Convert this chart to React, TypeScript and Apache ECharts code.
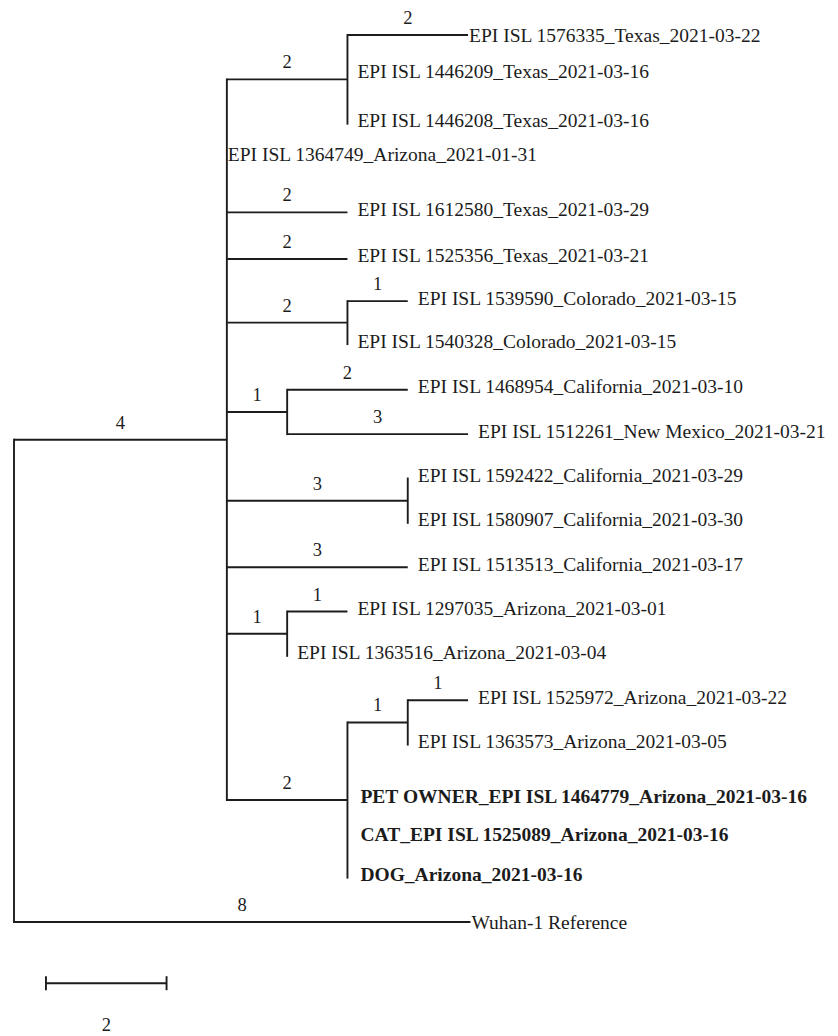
import React, { useEffect, useRef } from "react";
import * as echarts from "echarts";

// ---- Tree data (parents listed before children; child order = drawing order) ----
const nodeIds = [
  "root", "M", "T", "t1", "t2", "t3", "a0", "t4", "t5", "C", "c1", "c2",
  "N", "n1", "n2", "P", "p1", "p2", "s1", "A", "a1", "a2", "Q", "R", "r1", "r2",
  "q1", "q2", "q3", "W",
];
const nodeParents: (string | null)[] = [
  null, "root", "M", "T", "T", "T", "M", "M", "M", "M", "C", "C",
  "M", "N", "N", "M", "P", "P", "M", "M", "A", "A", "M", "Q", "R", "R",
  "Q", "Q", "Q", "root",
];
const branchLengths = [
  0, 3.53, 2, 2, 0, 0, 0, 2, 2, 2, 1, 0,
  1, 2, 3, 3, 0, 0, 3, 1, 1, 0, 2, 1, 1, 0,
  0, 0, 0, 7.57,
];
const branchLabels = [
  "", "4", "2", "2", "", "", "", "2", "2", "2", "1", "",
  "1", "2", "3", "3", "", "", "3", "1", "1", "", "2", "1", "1", "",
  "", "", "", "8",
];
const leafIds = [
  "t1", "t2", "t3", "a0", "t4", "t5", "c1", "c2", "n1", "n2", "p1", "p2",
  "s1", "a1", "a2", "r1", "r2", "q1", "q2", "q3", "W",
];
const leafNames = [
  "EPI ISL 1576335_Texas_2021-03-22",
  "EPI ISL 1446209_Texas_2021-03-16",
  "EPI ISL 1446208_Texas_2021-03-16",
  "EPI ISL 1364749_Arizona_2021-01-31",
  "EPI ISL 1612580_Texas_2021-03-29",
  "EPI ISL 1525356_Texas_2021-03-21",
  "EPI ISL 1539590_Colorado_2021-03-15",
  "EPI ISL 1540328_Colorado_2021-03-15",
  "EPI ISL 1468954_California_2021-03-10",
  "EPI ISL 1512261_New Mexico_2021-03-21",
  "EPI ISL 1592422_California_2021-03-29",
  "EPI ISL 1580907_California_2021-03-30",
  "EPI ISL 1513513_California_2021-03-17",
  "EPI ISL 1297035_Arizona_2021-03-01",
  "EPI ISL 1363516_Arizona_2021-03-04",
  "EPI ISL 1525972_Arizona_2021-03-22",
  "EPI ISL 1363573_Arizona_2021-03-05",
  "PET OWNER_EPI ISL 1464779_Arizona_2021-03-16",
  "CAT_EPI ISL 1525089_Arizona_2021-03-16",
  "DOG_Arizona_2021-03-16",
  "Wuhan-1 Reference",
];
const leafRows = [0, 0.9, 2, 2.77, 4, 5.05, 6, 6.97, 8, 9, 10, 11, 12, 13, 14, 15, 16, 17.23, 18.1, 19, 20];
const boldLeaves = ["q1", "q2", "q3"];
const tightLeaves = ["t1", "a0", "W"];
const scaleBarLength = 2;
const scaleBarLabel = "2";

// ---- layout constants ----
const WIDTH = 838;
const HEIGHT = 1036;
const UNIT_PX = 60.3;
const ROW_PX = 44.35;
const LEFT = 14;
const TOP = 35;
const X_MAX = 13;
const Y_MAX = 22.5;
const FONT = "'Liberation Serif', 'Times New Roman', serif";
const INK = "#1c1c1c";
const LW = 1.9;
const SCALE_X0 = 0.53;
const SCALE_ROW = 21.38;
const SCALE_LABEL_ROW = 22.33;

type Branch = { x0: number; x1: number; y: number; label: string };
type Vert = { x: number; y0: number; y1: number };
type Leaf = { x: number; y: number; name: string; bold: boolean; tight: boolean; branch: boolean };

function buildLayout() {
  const x: Record<string, number> = {};
  const y: Record<string, number> = {};
  const len: Record<string, number> = {};
  const children: Record<string, string[]> = {};
  nodeIds.forEach((id, i) => {
    const p = nodeParents[i];
    if (p) (children[p] = children[p] || []).push(id);
    x[id] = p ? x[p] + branchLengths[i] : 0;
    len[id] = branchLengths[i];
  });
  const yOf = (id: string): number => {
    if (y[id] !== undefined) return y[id];
    const li = leafIds.indexOf(id);
    if (li >= 0) return (y[id] = leafRows[li]);
    const ch = children[id];
    return (y[id] = (yOf(ch[0]) + yOf(ch[ch.length - 1])) / 2);
  };
  nodeIds.forEach(yOf);

  const branches: Branch[] = [];
  nodeIds.forEach((id, i) => {
    const p = nodeParents[i];
    if (p && branchLengths[i] > 0) branches.push({ x0: x[p], x1: x[id], y: y[id], label: branchLabels[i] });
  });
  const verts: Vert[] = [];
  nodeIds.forEach((id) => {
    const ch = children[id];
    if (ch && ch.length) verts.push({ x: x[id], y0: y[ch[0]], y1: y[ch[ch.length - 1]] });
  });
  const leaves: Leaf[] = leafIds.map((id, i) => ({
    x: x[id],
    y: y[id],
    name: leafNames[i],
    bold: boldLeaves.includes(id),
    tight: tightLeaves.includes(id),
    branch: len[id] > 0,
  }));
  return { branches, verts, leaves };
}

export default function App() {
  const ref = useRef<HTMLDivElement>(null);
  useEffect(() => {
    document.body.style.margin = "0";
    if (!ref.current) return;
    const chart = echarts.init(ref.current, undefined, { renderer: "svg" });
    const { branches, verts, leaves } = buildLayout();
    const lineStyle = { stroke: INK, lineWidth: LW };

    chart.setOption({
      animation: false,
      backgroundColor: "#ffffff",
      grid: {
        left: LEFT,
        right: WIDTH - LEFT - X_MAX * UNIT_PX,
        top: TOP,
        bottom: HEIGHT - TOP - Y_MAX * ROW_PX,
      },
      xAxis: { type: "value", min: 0, max: X_MAX, show: false },
      yAxis: { type: "value", min: 0, max: Y_MAX, inverse: true, show: false },
      series: [
        {
          type: "custom",
          silent: true,
          data: branches.map((b) => [b.x0, b.y]),
          renderItem: (params: any, api: any) => {
            const b = branches[params.dataIndex];
            const p0 = api.coord([b.x0, b.y]);
            const p1 = api.coord([b.x1, b.y]);
            const ch: any[] = [
              { type: "line", shape: { x1: p0[0], y1: p0[1], x2: p1[0], y2: p1[1] }, style: lineStyle },
            ];
            if (b.label) {
              ch.push({
                type: "text",
                style: {
                  text: b.label,
                  x: (p0[0] + p1[0]) / 2,
                  y: p0[1] - 17,
                  align: "center",
                  verticalAlign: "middle",
                  fill: INK,
                  fontSize: 18.5,
                  fontFamily: FONT,
                },
              });
            }
            return { type: "group", children: ch };
          },
        },
        {
          type: "custom",
          silent: true,
          data: verts.map((v) => [v.x, v.y0]),
          renderItem: (params: any, api: any) => {
            const v = verts[params.dataIndex];
            const p0 = api.coord([v.x, v.y0]);
            const p1 = api.coord([v.x, v.y1]);
            return {
              type: "line",
              shape: { x1: p0[0], y1: p0[1] - LW / 2, x2: p1[0], y2: p1[1] + LW / 2 },
              style: lineStyle,
            };
          },
        },
        {
          type: "custom",
          silent: true,
          data: leaves.map((l) => [l.x, l.y]),
          renderItem: (params: any, api: any) => {
            const l = leaves[params.dataIndex];
            const p = api.coord([l.x, l.y]);
            return {
              type: "text",
              style: {
                text: l.name,
                x: p[0] + (l.tight ? 1 : l.bold ? 13 : 10),
                y: p[1] - (l.tight && l.branch ? 0 : 3),
                align: "left",
                verticalAlign: "middle",
                fill: INK,
                fontSize: 19.5,
                fontWeight: l.bold ? "bold" : "normal",
                fontFamily: FONT,
              },
            };
          },
        },
        {
          type: "custom",
          silent: true,
          data: [[SCALE_X0, SCALE_ROW]],
          renderItem: (params: any, api: any) => {
            const p0 = api.coord([SCALE_X0, SCALE_ROW]);
            const p1 = api.coord([SCALE_X0 + scaleBarLength, SCALE_ROW]);
            const pl = api.coord([SCALE_X0 + scaleBarLength / 2, SCALE_LABEL_ROW]);
            return {
              type: "group",
              children: [
                { type: "line", shape: { x1: p0[0], y1: p0[1], x2: p1[0], y2: p1[1] }, style: lineStyle },
                { type: "line", shape: { x1: p0[0], y1: p0[1] - 7, x2: p0[0], y2: p0[1] + 7 }, style: lineStyle },
                { type: "line", shape: { x1: p1[0], y1: p1[1] - 7, x2: p1[0], y2: p1[1] + 7 }, style: lineStyle },
                {
                  type: "text",
                  style: {
                    text: scaleBarLabel,
                    x: pl[0],
                    y: pl[1],
                    align: "center",
                    verticalAlign: "middle",
                    fill: INK,
                    fontSize: 18.5,
                    fontFamily: FONT,
                  },
                },
              ],
            };
          },
        },
      ],
    });
    return () => chart.dispose();
  }, []);
  return <div ref={ref} style={{ width: WIDTH, height: HEIGHT }} />;
}
